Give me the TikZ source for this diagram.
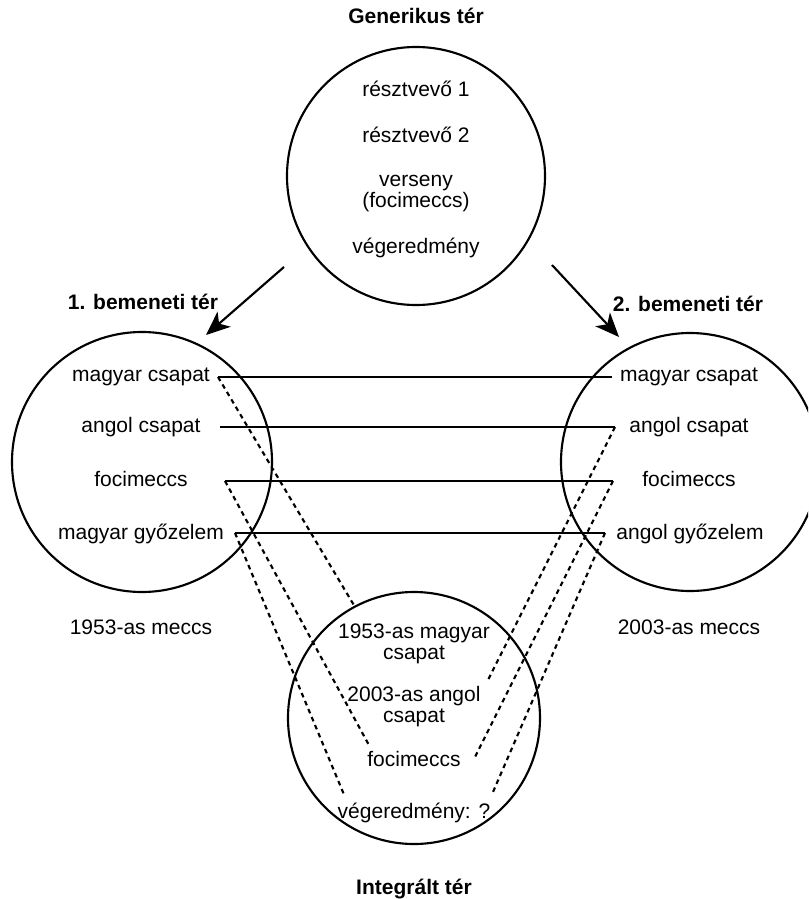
\documentclass[tikz,border=0pt]{standalone}
\usepackage{fontspec}
\setmainfont{Liberation Sans}
\usetikzlibrary{arrows.meta}
\begin{document}
\begin{tikzpicture}[x=0.75pt,y=-0.75pt,
  lbl/.style={font=\fontsize{15.75pt}{15.75pt}\selectfont, inner sep=0pt, anchor=base, align=center},
  ttl/.style={lbl, font=\fontsize{15.75pt}{15.75pt}\selectfont\bfseries},
  space/.style={draw, circle, line width=1.6pt, inner sep=0pt},
  link/.style={line width=1.6pt},
  blendline/.style={line width=1.6pt, dash pattern=on 3.5pt off 3pt},
  arr/.style={line width=1.6pt, -{Stealth[length=18pt,width=15pt,inset=5pt]}}
]
\useasboundingbox (0,0) rectangle (808,899);
\clip (0,0) rectangle (808,899);
% circles
\node[space, minimum size=193.5pt] (gen) at (416,176) {};
\node[space, minimum size=195pt] (in1) at (142,462) {};
\node[space, minimum size=193.5pt] (in2) at (690,462) {};
\node[space, minimum size=189pt] (bl) at (414,718) {};
% titles
\node[ttl] (tgen) at (416,24) {Generikus tér};
\node[ttl] (tin1) at (143,309) {1. bemeneti tér};
\node[ttl] (tin2) at (688,311) {2. bemeneti tér};
\node[ttl] (tbl) at (414,894) {Integrált tér};
% generic space
\node[lbl] (g1) at (416,97) {résztvevő 1};
\node[lbl] (g2) at (416,142) {résztvevő 2};
\node[lbl] (g3) at (416,207) {verseny\\(focimeccs)};
\node[lbl] (g4) at (416,253) {végeredmény};
% input 1
\node[lbl] (a1) at (141,381) {magyar csapat};
\node[lbl] (a2) at (141,432) {angol csapat};
\node[lbl] (a3) at (141,486) {focimeccs};
\node[lbl] (a4) at (141,539) {magyar győzelem};
\node[lbl] (a5) at (141,634) {1953-as meccs};
% input 2
\node[lbl] (b1) at (689,381) {magyar csapat};
\node[lbl] (b2) at (689,432) {angol csapat};
\node[lbl] (b3) at (689,486) {focimeccs};
\node[lbl] (b4) at (690,539) {angol győzelem};
\node[lbl] (b5) at (689,634) {2003-as meccs};
% blend
\node[lbl] (c1) at (414,659) {1953-as magyar\\csapat};
\node[lbl] (c2) at (414,722) {2003-as angol\\csapat};
\node[lbl] (c3) at (414,766) {focimeccs};
\node[lbl] (c4) at (414,818) {végeredmény: ?};
% arrows
\coordinate (s1) at (284,267); \coordinate (e1) at (206,335);
\coordinate (s2) at (552,265); \coordinate (e2) at (619,337);
\draw[arr] (s1) -- (e1);
\draw[arr] (s2) -- (e2);
% cross-space links
\coordinate (L1) at (218,377); \coordinate (R1) at (612,377);
\coordinate (L2) at (220,427); \coordinate (R2) at (615,427);
\coordinate (L3) at (225,481); \coordinate (R3) at (613,481);
\coordinate (L4) at (235,533); \coordinate (R4) at (605,533);
\draw[link] (L1) -- (R1);
\draw[link] (L2) -- (R2);
\draw[link] (L3) -- (R3);
\draw[link] (L4) -- (R4);
% blend projections
\coordinate (B1) at (355,607); \coordinate (B2) at (370,747);
\coordinate (B3) at (345,797); \coordinate (B4) at (488,680);
\coordinate (B5) at (475,757); \coordinate (B6) at (493,792);
\draw[blendline] (L1) -- (B1);
\draw[blendline] (L3) -- (B2);
\draw[blendline] (L4) -- (B3);
\draw[blendline] (R2) -- (B4);
\draw[blendline] (R3) -- (B5);
\draw[blendline] (R4) -- (B6);
\end{tikzpicture}
\end{document}
